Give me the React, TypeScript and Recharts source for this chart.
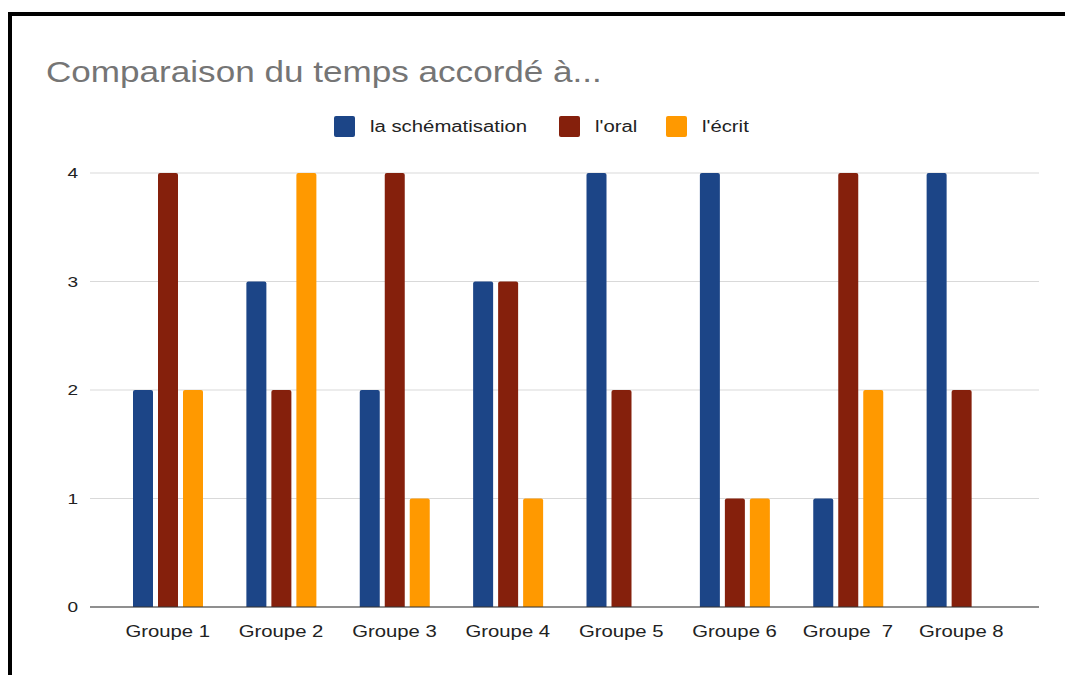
import React from 'react';
import { BarChart, Bar, XAxis, YAxis, CartesianGrid, Legend } from 'recharts';

const groups = ['Groupe 1', 'Groupe 2', 'Groupe 3', 'Groupe 4', 'Groupe 5', 'Groupe 6', 'Groupe  7', 'Groupe 8'];
const schematisation = [2, 3, 2, 3, 4, 4, 1, 4];
const oral = [4, 2, 4, 3, 2, 1, 4, 2];
const ecrit = [2, 4, 1, 1, 0, 1, 2, 0];
const yTicks = [0, 1, 2, 3, 4];
const titleText = 'Comparaison du temps accordé à...';

const series = [
  { key: 'schematisation', name: 'la schématisation', color: '#1c4587' },
  { key: 'oral', name: "l'oral", color: '#85200c' },
  { key: 'ecrit', name: "l'écrit", color: '#ff9900' },
];

const data = groups.map((g, i) => ({
  group: g,
  schematisation: schematisation[i],
  oral: oral[i],
  ecrit: ecrit[i],
}));

const FONT = "Arial, 'Liberation Sans', sans-serif";
const SX = 1.27;

const XTick = (props: any) => {
  const { x, y, payload } = props;
  return (
    <text
      transform={`translate(${x},${y + 30}) scale(${SX},1)`}
      x={0}
      y={0}
      textAnchor="middle"
      fill="#222"
      fontSize={16}
      fontFamily={FONT}
      style={{ whiteSpace: 'pre' }}
      xmlSpace="preserve"
    >
      {payload.value}
    </text>
  );
};

const YTick = (props: any) => {
  const { x, y, payload } = props;
  return (
    <text
      transform={`translate(${x},${y + 5}) scale(${SX},1)`}
      x={0}
      y={0}
      textAnchor="end"
      fill="#222"
      fontSize={15}
      fontFamily={FONT}
    >
      {payload.value}
    </text>
  );
};

const legendSquareX = [322, 547, 654];

const LegendContent = () => (
  <div style={{ position: 'relative', width: 720, height: 21, fontFamily: FONT, fontSize: 16, color: '#222' }}>
    {series.map((s, i) => (
      <React.Fragment key={s.key}>
        <span
          style={{
            position: 'absolute',
            left: legendSquareX[i],
            top: 0,
            width: 21,
            height: 21,
            borderRadius: 2,
            background: s.color,
          }}
        />
        <span
          style={{
            position: 'absolute',
            left: legendSquareX[i] + 36,
            top: 1,
            lineHeight: '19px',
            whiteSpace: 'nowrap',
            transform: `scaleX(${SX})`,
            transformOrigin: 'left center',
          }}
        >
          {s.name}
        </span>
      </React.Fragment>
    ))}
  </div>
);

export default function App() {
  return (
    <div
      style={{
        position: 'absolute',
        left: 8,
        top: 12,
        right: 0,
        bottom: 0,
        overflow: 'hidden',
        borderTop: '4px solid #000',
        borderLeft: '4px solid #000',
        background: '#fff',
      }}
    >
      <div
        style={{
          position: 'absolute',
          left: 34,
          top: 39,
          fontFamily: FONT,
          fontSize: 29,
          color: '#757575',
          whiteSpace: 'nowrap',
          lineHeight: '34px',
          transform: 'scaleX(1.21)',
          transformOrigin: 'left center',
        }}
      >
        {titleText}
      </div>
      <BarChart
        width={1053}
        height={659}
        data={data}
        margin={{ top: 136, right: 26, bottom: 38, left: 0 }}
        barSize={20}
        barGap={5}
      >
        <CartesianGrid vertical={false} stroke="#d9d9d9" />
        <XAxis
          dataKey="group"
          height={30}
          padding={{ left: 21, right: 21 }}
          tickLine={false}
          tickSize={0}
          tickMargin={0}
          axisLine={{ stroke: '#333' }}
          tick={<XTick />}
          interval={0}
        />
        <YAxis
          width={78}
          domain={[0, 4]}
          ticks={yTicks}
          tickLine={false}
          axisLine={false}
          tickSize={0}
          tickMargin={12}
          tick={<YTick />}
        />
        <Legend
          verticalAlign="top"
          content={<LegendContent />}
          wrapperStyle={{ position: 'absolute', top: 100, left: 0, width: 720, height: 21 }}
        />
        {series.map((s) => (
          <Bar
            key={s.key}
            dataKey={s.key}
            name={s.name}
            fill={s.color}
            radius={[2, 2, 0, 0]}
            isAnimationActive={false}
          />
        ))}
      </BarChart>
    </div>
  );
}
